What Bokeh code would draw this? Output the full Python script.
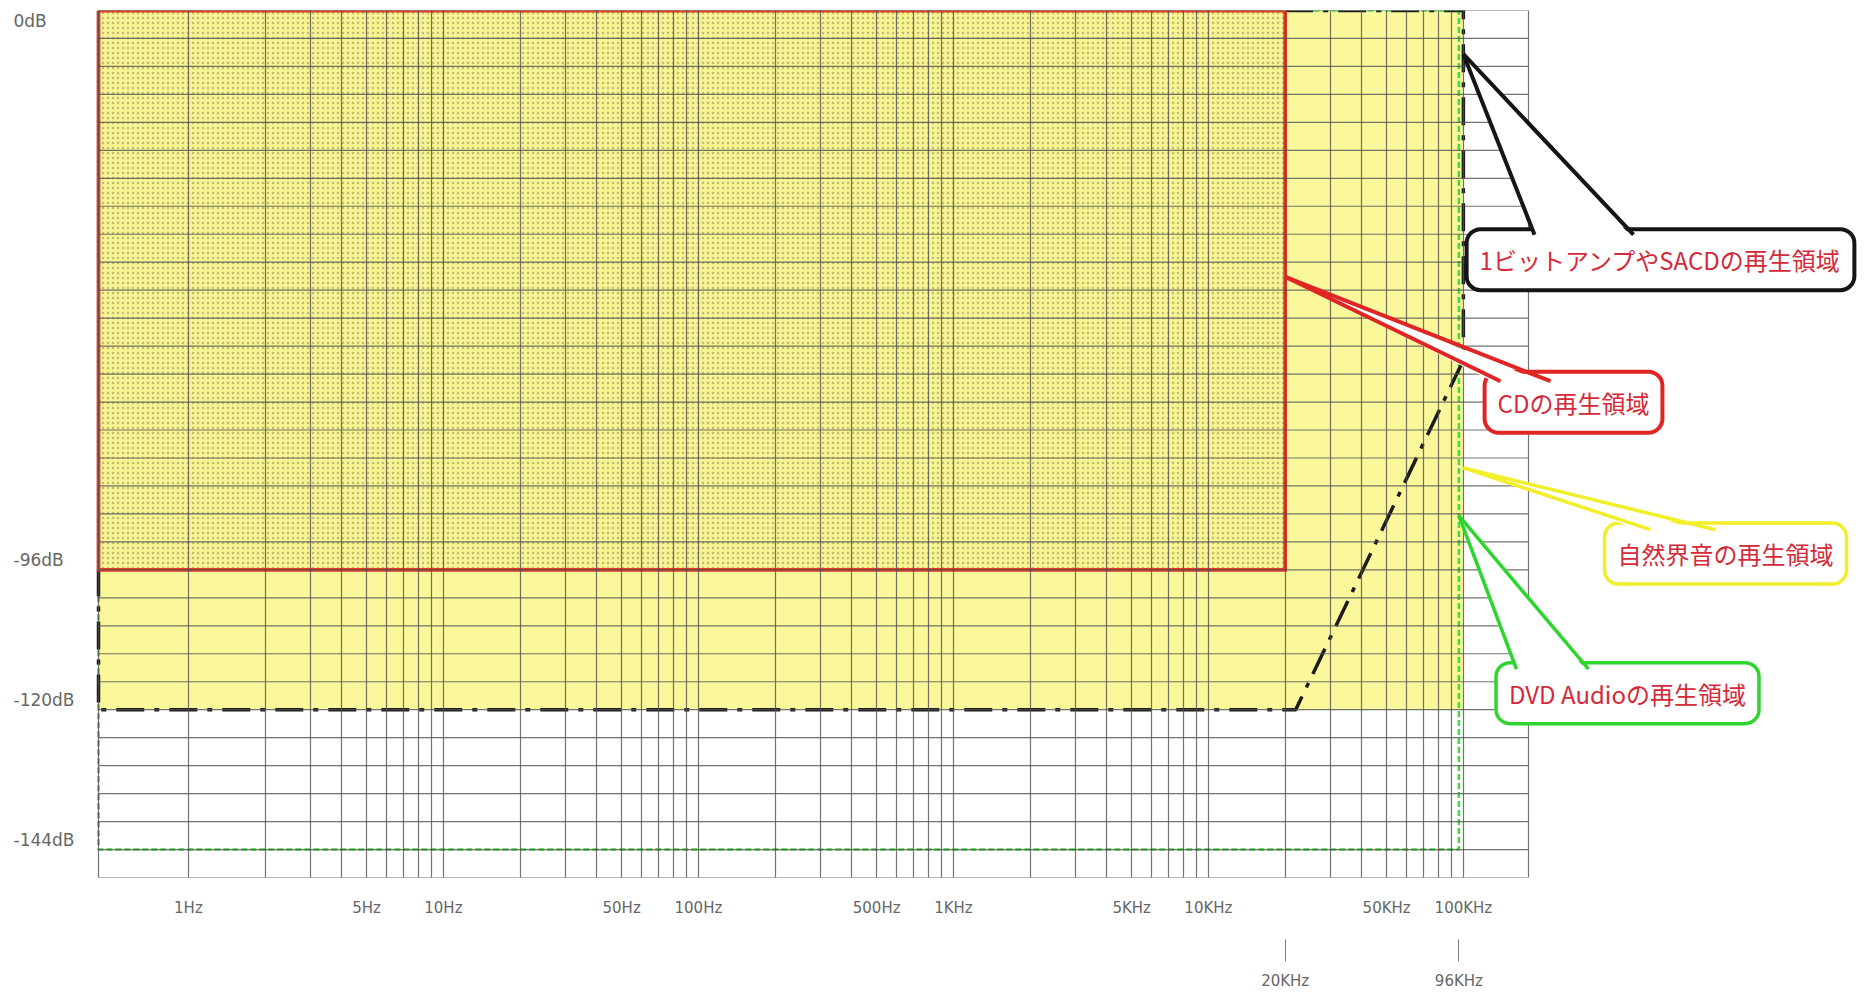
import math
from bokeh.plotting import figure
from bokeh.models import FixedTicker, LogAxis, Label, PolyAnnotation
from bokeh.core.properties import value
from bokeh.embed import file_html
from bokeh.resources import INLINE

# ---------------- data ----------------
freq_ticks = [1, 5, 10, 50, 100, 500, 1000, 5000, 10000, 50000, 100000]
freq_tick_labels = ["1Hz", "5Hz", "10Hz", "50Hz", "100Hz", "500Hz",
                    "1KHz", "5KHz", "10KHz", "50KHz", "100KHz"]
marker_freqs = [20000, 96000]
marker_labels = ["20KHz", "96KHz"]
db_ticks = [0, -96, -120, -144]
db_tick_labels = ["0dB", "-96dB", "-120dB", "-144dB"]

freq_low = 0.444      # left edge of the chart (Hz)
freq_high = 180000    # right edge of the chart (Hz)
db_top = 0
db_bottom = -148.8

# regions: frequency (Hz) / level (dB)
natural_freq = [freq_low, 100000]
natural_db = [0, -120]
cd_freq = [freq_low, 20000]
cd_db = [0, -96]
dvd_freq = [freq_low, 96000]
dvd_db = [0, -144]
onebit_freq = [20000, 100000, 100000, 22000, freq_low, freq_low]
onebit_db = [0, 0, -60, -120, -120, -96]

callout_texts = ["1ビットアンプやSACDの再生領域", "CDの再生領域",
                 "自然界音の再生領域", "DVD Audioの再生領域"]
callout_tip_freq = [100000, 20000, 100000, 96000]
callout_tip_db = [-7.5, -45.7, -78.5, -86.7]

# ---------------- layout (page pixels) ----------------
W, H = 1872, 992
FL, FT, FR, FB = 98, 10, 1528, 880          # chart (grid) edges on the page
callout_center = [(1660, 260), (1573, 403), (1725, 555), (1627, 695)]
callout_base = [((1534, 233), (1633, 233)), ((1500, 380), (1550, 380)),
                ((1650, 529), (1715, 529)), ((1516, 669), (1588, 669))]
callout_border = ["#151515", "#E02525", "#F2EE2A", "#2ED52E"]
callout_width = [4, 4, 3.5, 3.5]

decade_px = (FR - FL) / (math.log10(freq_high) - math.log10(freq_low))


def px_to_freq(px):
    return 10 ** (math.log10(freq_low) + (px - FL) / decade_px)


def px_to_db(py):
    return db_top - (py - FT) / (FB - FT) * (db_top - db_bottom)


p = figure(width=W, height=H, x_axis_type="log", y_axis_location=None,
           x_range=(px_to_freq(0), px_to_freq(W)), y_range=(db_bottom, db_top),
           output_backend="svg", toolbar_location=None,
           min_border_left=0, min_border_right=0,
           min_border_top=FT, min_border_bottom=H - FB)
p.background_fill_color = "white"
p.border_fill_color = "white"
p.outline_line_color = None
p.ygrid.visible = False

# vertical grid (log decades) through the axis ticker machinery
grid_freqs = [freq_low] + [m * 10 ** k for k in range(0, 6) for m in range(1, 10)
                           if m * 10 ** k <= 100000] + [freq_high]
p.xgrid.ticker = FixedTicker(ticks=grid_freqs)
p.xgrid.grid_line_color = "#505050"
p.xgrid.grid_line_alpha = 0.8
p.xgrid.grid_line_width = 1.2
p.xgrid.level = "guide"

# x axis
ax = p.xaxis[0]
ax.ticker = FixedTicker(ticks=freq_ticks)
ax.major_label_overrides = {f: l for f, l in zip(freq_ticks, freq_tick_labels)}
ax.axis_line_color = None
ax.major_tick_line_color = None
ax.minor_tick_line_color = None
ax.major_label_standoff = 15
ax.major_label_text_color = "#666666"
ax.major_label_text_font = "DejaVu Sans"
ax.major_label_text_font_size = "15px"

ax2 = LogAxis(ticker=FixedTicker(ticks=marker_freqs),
              major_label_overrides={f: l for f, l in zip(marker_freqs, marker_labels)})
ax2.axis_line_color = None
ax2.minor_tick_line_color = None
ax2.major_tick_line_color = "#808080"
ax2.major_tick_in = -20
ax2.major_tick_out = 42
ax2.major_label_standoff = 10
ax2.major_label_text_color = "#666666"
ax2.major_label_text_font = "DejaVu Sans"
ax2.major_label_text_font_size = "15px"
p.add_layout(ax2, "below")

# regions
p.quad(left=[natural_freq[0]], right=[natural_freq[1]], top=[natural_db[0]], bottom=[natural_db[1]],
       fill_color="#FBF89C", line_color=None)
p.quad(left=[cd_freq[0]], right=[cd_freq[1]], top=[cd_db[0]], bottom=[cd_db[1]],
       fill_color="#F6F08A", fill_alpha=0.5, line_color=None,
       hatch_pattern="dot", hatch_color="#8f8c55", hatch_scale=5, hatch_alpha=0.55, hatch_weight=1)

dvd_x = [dvd_freq[0], dvd_freq[1], dvd_freq[1], dvd_freq[0], dvd_freq[0]]
dvd_y = [dvd_db[0], dvd_db[0], dvd_db[1], dvd_db[1], dvd_db[0]]
p.line(dvd_x, dvd_y, line_color="#3FDC3F", line_width=2.5, line_dash="6 3")

p.line(onebit_freq, onebit_db, line_color="#1c1c1c", line_width=3.5, line_dash="28 10 5 10")

cd_x = [cd_freq[0], cd_freq[1], cd_freq[1], cd_freq[0], cd_freq[0]]
cd_y = [cd_db[0], cd_db[0], cd_db[1], cd_db[1], cd_db[0]]
p.line(cd_x, cd_y, line_color="#E33A27", line_width=3.8, line_join="miter")

# horizontal grid lines (limited to the chart area)
grid_db = [db_top - 4.8 * k for k in range(0, 32)]
p.segment(x0=[freq_low] * len(grid_db), x1=[freq_high] * len(grid_db), y0=grid_db, y1=grid_db,
          line_color="#505050", line_alpha=0.8, line_width=1.2)

# level labels (left of the chart)
label_x = px_to_freq(13)
p.text(x=[label_x], y=db_ticks[:1], text=db_tick_labels[:1], text_align="left",
       text_baseline="top", text_color="#666666", text_font=value("DejaVu Sans"),
       text_font_size="17px")
p.text(x=[label_x] * 3, y=db_ticks[1:], text=db_tick_labels[1:], text_align="left",
       text_baseline="bottom", text_color="#666666", text_font=value("DejaVu Sans"),
       text_font_size="17px")

# callouts
for text, tf, td, (cx, cy), ((bx1, by1), (bx2, by2)), col, lw in zip(
        callout_texts, callout_tip_freq, callout_tip_db, callout_center,
        callout_base, callout_border, callout_width):
    p.add_layout(Label(x=px_to_freq(cx), y=px_to_db(cy), text=text,
                       text_align="center", text_baseline="middle",
                       text_color="#D42A3A", text_font="Noto Sans CJK JP",
                       text_font_size="24px",
                       background_fill_color="white", border_line_color=col,
                       border_line_width=lw, border_radius=14, padding=13))
    p.add_layout(PolyAnnotation(xs=[tf, px_to_freq(bx1), px_to_freq(bx2)],
                                ys=[td, px_to_db(by1 + 6), px_to_db(by2 + 6)],
                                fill_color="white", fill_alpha=1, line_color=None))
    for bx, by in ((bx1, by1), (bx2, by2)):
        p.add_layout(PolyAnnotation(xs=[tf, px_to_freq(bx)], ys=[td, px_to_db(by + 2)],
                                    fill_alpha=0, line_color=col, line_alpha=1, line_width=lw))

open("out.html", "w").write(file_html(p, INLINE))
